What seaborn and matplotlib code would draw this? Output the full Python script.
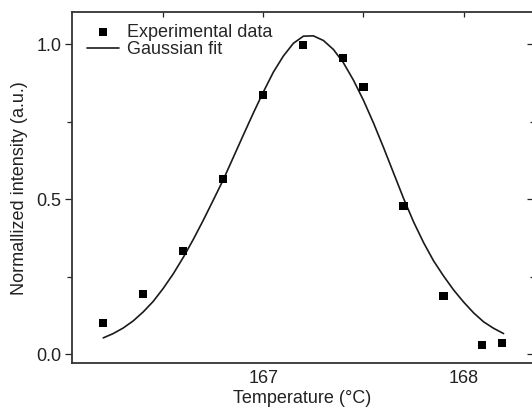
import pandas as pd
import seaborn as sns
import matplotlib.pyplot as plt
from matplotlib.ticker import MultipleLocator, FormatStrFormatter

# experimental points
temperature = [166.2, 166.4, 166.6, 166.8, 167.0, 167.2, 167.4, 167.5, 167.7, 167.9, 168.09, 168.19]
intensity = [0.099, 0.194, 0.332, 0.564, 0.835, 0.998, 0.956, 0.862, 0.478, 0.187, 0.030, 0.036]

# gaussian fit curve
fit_temperature = [166.20, 166.25, 166.30, 166.35, 166.40, 166.45, 166.50, 166.55, 166.60, 166.65,
                   166.70, 166.75, 166.80, 166.85, 166.90, 166.95, 167.00, 167.05, 167.10, 167.15,
                   167.20, 167.25, 167.30, 167.35, 167.40, 167.45, 167.50, 167.55, 167.60, 167.65,
                   167.70, 167.75, 167.80, 167.85, 167.90, 167.95, 168.00, 168.05, 168.10, 168.15,
                   168.20]
fit_intensity = [0.052, 0.066, 0.084, 0.107, 0.136, 0.170, 0.212, 0.259, 0.312, 0.370,
                 0.432, 0.497, 0.563, 0.635, 0.707, 0.778, 0.846, 0.910, 0.962, 1.003,
                 1.026, 1.027, 1.012, 0.983, 0.940, 0.884, 0.819, 0.746, 0.667, 0.585,
                 0.503, 0.427, 0.360, 0.301, 0.252, 0.207, 0.168, 0.133, 0.104, 0.083,
                 0.066]

exp_df = pd.DataFrame({'T': temperature, 'I': intensity})
fit_df = pd.DataFrame({'T': fit_temperature, 'I': fit_intensity})

sns.set_style("ticks")
plt.rcParams['font.family'] = ['Liberation Sans', 'DejaVu Sans']
fs = 13
plt.rcParams['font.size'] = fs

fig = plt.figure(figsize=(5.32, 4.08), dpi=100)
ax = fig.add_axes([72 / 532, (408 - 363.3) / 408, 461 / 532, 351.3 / 408])

sns.lineplot(data=fit_df, x='T', y='I', color='#1a1a1a', lw=1.2, label='Gaussian fit', ax=ax, zorder=2)
sns.scatterplot(data=exp_df, x='T', y='I', marker='s', s=34, color='black', edgecolor='none',
                label='Experimental data', ax=ax, zorder=3)

ax.set_xlim(166.044, 168.347)
ax.set_ylim(-0.030, 1.104)

ax.xaxis.set_major_locator(MultipleLocator(1))
ax.xaxis.set_minor_locator(MultipleLocator(0.5))
ax.yaxis.set_major_locator(MultipleLocator(0.5))
ax.yaxis.set_minor_locator(MultipleLocator(0.25))
ax.yaxis.set_major_formatter(FormatStrFormatter('%.1f'))

# x: no bottom ticks, small inward ticks on top
ax.tick_params(axis='x', which='both', bottom=False, top=True, direction='in',
               length=3.5, width=0.9, pad=4.5, labelsize=fs, colors='#222')
# y: outward ticks on the left
ax.tick_params(axis='y', which='major', left=True, direction='out', length=5, width=0.9,
               pad=2.4, labelsize=fs, colors='#222')
ax.tick_params(axis='y', which='minor', left=True, direction='out', length=3.6, width=0.9)

# inward ticks on the right side
sec = ax.secondary_yaxis('right')
sec.yaxis.set_major_locator(MultipleLocator(0.5))
sec.yaxis.set_minor_locator(MultipleLocator(0.25))
sec.tick_params(axis='y', which='major', direction='in', length=4, width=0.9, labelright=False)
sec.tick_params(axis='y', which='minor', direction='in', length=2.5, width=0.9)

for side in ['left', 'bottom', 'top', 'right']:
    ax.spines[side].set_linewidth(1.3)
    ax.spines[side].set_color('#333')
sec.spines['right'].set_linewidth(1.3)

ax.set_xlabel('Temperature (°C)', fontsize=fs, labelpad=2.2, color='#222')
ax.set_ylabel('Normallized intensity (a.u.)', fontsize=fs, labelpad=6.5, color='#222')

handles, labels = ax.get_legend_handles_labels()
order = [labels.index('Experimental data'), labels.index('Gaussian fit')]
ax.legend([handles[i] for i in order], [labels[i] for i in order], loc='upper left',
          bbox_to_anchor=(0.0325, 0.967), frameon=False, borderpad=0, borderaxespad=0,
          labelspacing=0.03, handlelength=1.77, handletextpad=0.44, fontsize=fs)

plt.savefig('out.png', dpi=100)
